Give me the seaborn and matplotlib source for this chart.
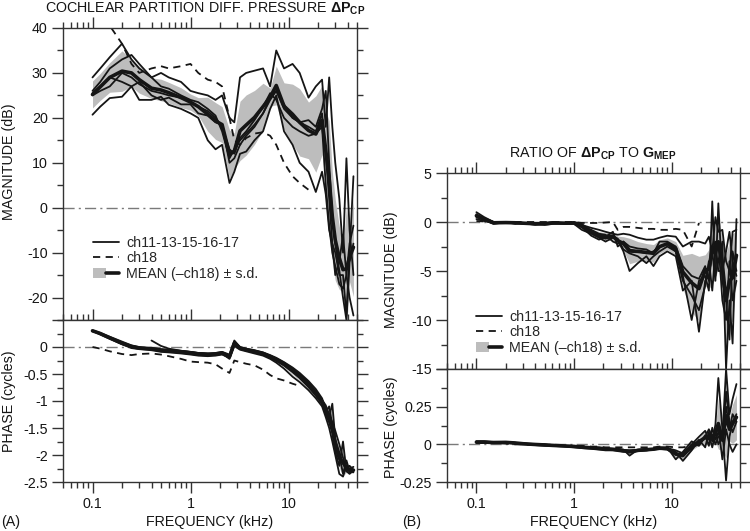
import numpy as np
import pandas as pd
import matplotlib
matplotlib.use("Agg")
import matplotlib.pyplot as plt
import seaborn as sns
from matplotlib.lines import Line2D
from matplotlib.patches import Rectangle
from matplotlib.legend_handler import HandlerTuple
from matplotlib.ticker import FixedLocator, FixedFormatter, NullFormatter

nan = np.nan

# ---------------- data ----------------
freq_khz = [0.1, 0.12, 0.15, 0.2, 0.25, 0.3, 0.4, 0.5, 0.6, 0.8, 1.0, 1.2, 1.5, 1.8, 2.1,
            2.5, 2.8, 3.2, 3.7, 4.5, 5.5, 6.5, 7.5, 9.0, 11, 13, 16, 19, 22, 24, 26, 28,
            30, 33, 36, 39, 42, 46]

# Panel A: cochlear partition differential pressure, magnitude (dB)
magA_ch11 = [26, 28, 31, 33, 34, 32, 29, 30, 29, 28, 26, 25.5, 25, 24, 25, 20, 19, 29, 30, 30.5,
             31, 27, 35, 31, 32, 30, 24.5, 27, 28.5, 18, 29, 18, 10, 2, -10, 11, -5, -15]
magA_ch13 = [29, 31, 33.5, 36.5, 33, 31, 29, 27, 26.5, 25, 24, 23.5, 22, 20.5, 17, 11, 13, 15,
             16.5, 18.5, 21, 24, 26, 22, 20, 19, 19.5, 18, 22, 26, 10, -2, -8, -14, -20, -25, -12, -8]
magA_ch15 = [20.7, 22.5, 24.4, 24.7, 27, 24, 24, 24.7, 22.9, 22, 21, 20, 15, 13, 14, 5.5, 8, 12,
             12.5, 15, 17, 22, 25, 17, 14, 10, 8, 3.5, 8, 3, -5, -8, -10, -15, -15, -24, -10, 7]
magA_ch16 = [25, 26, 27, 30, 29, 27.5, 26, 25.5, 25, 24.5, 23.5, 22.5, 21.5, 20, 18, 13, 12, 15.5,
             17, 19.5, 22.5, 25.5, 24, 20, 18, 17, 16, 16.5, 18, 5, -4, -10, -13, -17, -18, -15, -8, -4]
magA_ch17 = [25.5, 27, 29, 28, 27, 28, 25, 24, 24.5, 23, 23, 21, 20.5, 19, 18.5, 10, 11, 14, 16,
             18, 21, 24.5, 26, 23, 20, 19, 18, 17, 21, 12, 2, -8, -15, -12, -6, -15, -20, -24]
magA_ch18 = [nan, 45, 40.5, 36.5, 32, 30, 31, 31.5, 31, 31.5, 32, 30, 28.5, 28, 27, 20, 15, 14,
             15.5, 16.5, 16.8, 16, 14, 10, 7, 5.5, 4, nan, nan, nan, nan, nan, nan, nan, nan, nan, nan, nan]
magA_mean = [25.2, 26.9, 29.0, 30.4, 30, 28.5, 26.6, 26.2, 25.6, 24.5, 23.5, 22.5, 20.8, 19.3, 18.5,
             11.9, 12.6, 17.1, 18.4, 20.1, 22.5, 24.6, 27.2, 22.6, 20.8, 19, 17.2, 16.4, 19.5, 12.8,
             6.4, -2, -7.2, -11.2, -13.8, -13.6, -11, -8.8]
magA_sd = [3, 3, 3.3, 4.5, 3, 3, 2.3, 2.4, 2.3, 2.2, 1.8, 2, 3.8, 4.1, 4, 5.4, 4, 6.6, 6.7, 6,
           5.2, 2, 4.3, 5.2, 6.7, 7.5, 6.3, 8.5, 7.7, 8.7, 13, 10, 9, 7, 5, 14, 5.5, 11]

# Panel A: phase (cycles)
phA_ch11 = [0.31, 0.26, 0.19, 0.10, 0.03, 0.00, -0.03, -0.05, -0.06, -0.08, -0.10, -0.12, -0.13,
            -0.12, -0.10, -0.17, 0.10, -0.01, -0.04, -0.07, -0.11, -0.16, -0.21, -0.29, -0.40,
            -0.50, -0.66, -0.82, -0.98, -1.08, -1.25, -1.40, -1.55, -1.80, -2.05, -2.25, -2.20, -2.28]
phA_ch13 = [0.30, 0.24, 0.16, 0.06, 0.00, -0.02, -0.04, -0.07, -0.08, -0.10, -0.12, -0.14, -0.15,
            -0.14, -0.12, -0.22, 0.05, -0.03, -0.06, -0.09, -0.13, -0.19, -0.25, -0.34, -0.46,
            -0.57, -0.74, -0.90, -1.05, -1.20, -1.10, -1.45, -1.85, -2.00, -2.35, -2.10, -2.30, -2.32]
phA_ch15 = [0.29, 0.25, 0.17, 0.08, 0.02, -0.01, -0.02, -0.04, -0.05, -0.07, -0.09, -0.11, -0.12,
            -0.11, -0.09, -0.14, 0.12, 0.00, -0.03, -0.06, -0.10, -0.15, -0.20, -0.28, -0.38,
            -0.48, -0.63, -0.78, -0.95, -1.15, -1.30, -1.05, -1.70, -1.95, -2.15, -2.30, -2.25, -2.22]
phA_ch16 = [nan, nan, nan, nan, nan, nan, 0.12, 0.02, -0.03, -0.07, -0.09, -0.11, -0.12, -0.13,
            -0.11, -0.19, 0.08, -0.02, -0.05, -0.08, -0.12, -0.17, -0.23, -0.31, -0.43, -0.53,
            -0.70, -0.86, -1.02, -1.25, -1.40, -1.60, -1.95, -2.20, -1.75, -2.30, -2.35, -2.28]
phA_ch17 = [0.30, 0.23, 0.15, 0.05, -0.02, -0.04, -0.06, -0.09, -0.10, -0.12, -0.14, -0.16, -0.17,
            -0.16, -0.14, -0.20, 0.02, -0.05, -0.08, -0.12, -0.16, -0.22, -0.29, -0.40, -0.55,
            -0.65, -0.80, -0.95, -1.10, -1.30, -1.50, -1.75, -2.00, -2.35, -2.40, -2.20, -2.32, -2.30]
phA_ch18 = [0.00, -0.03, -0.08, -0.13, -0.15, -0.13, -0.12, -0.14, -0.17, -0.22, -0.27, -0.28,
            -0.29, -0.32, -0.40, -0.48, -0.25, -0.28, -0.31, -0.34, -0.42, -0.52, -0.58, -0.62,
            -0.68, -0.72, nan, nan, nan, nan, nan, nan, nan, nan, nan, nan, nan, nan]
phA_mean = [0.30, 0.25, 0.17, 0.07, 0.01, -0.02, -0.03, -0.06, -0.07, -0.09, -0.11, -0.13, -0.14,
            -0.13, -0.11, -0.18, 0.07, -0.02, -0.05, -0.08, -0.12, -0.18, -0.24, -0.32, -0.44,
            -0.55, -0.71, -0.86, -1.02, -1.20, -1.31, -1.45, -1.81, -2.06, -2.14, -2.23, -2.28, -2.28]
phA_sd = [0.02, 0.02, 0.02, 0.03, 0.03, 0.02, 0.03, 0.03, 0.03, 0.03, 0.03, 0.03, 0.03, 0.03,
          0.03, 0.04, 0.05, 0.03, 0.03, 0.03, 0.03, 0.04, 0.04, 0.05, 0.07, 0.07, 0.07, 0.07,
          0.07, 0.08, 0.16, 0.25, 0.17, 0.18, 0.25, 0.09, 0.06, 0.05]

# Panel B: ratio of dPcp to G_MEP, magnitude (dB)
magB_ch11 = [1.0, 0.5, 0, -0.1, 0, -0.1, -0.2, -0.1, -0.1, -0.1, -0.1, -0.3, -0.6, -0.8, -1.0,
             -1.2, -1.3, -1.2, -1.3, -1.6, -1.8, -1.8, -1.6, -1.4, -1.5, -2.5, -2.0, -2.0, -2.2,
             -1.5, -3, 0.5, -1, -0.8, -4, -5, -1, -0.8]
magB_ch13 = [0.8, 0.3, -0.1, 0, -0.2, -0.1, -0.3, -0.2, -0.1, -0.2, -0.2, -0.8, -1.2, -1.6, -2.0,
             -1.6, -1.8, -3, -5, -4.2, -3.5, -4.5, -3.5, -3, -3.5, -7, -6, -11.2, -6, -5.5, -3,
             -6, 1.9, -6, -8, -12, -3, -5]
magB_ch15 = [0.5, 0.2, -0.2, 0, -0.1, -0.2, -0.2, -0.3, -0.2, -0.1, -0.1, -0.5, -1.4, -1.8, -1.5,
             -1.0, -2.5, -2, -2.8, -3, -3.2, -3, -2.5, -2.2, -3, -5.5, -10, -6, -5.5, -7, 2.1,
             -5.5, -4, -2, -15, -8, -12.4, 0.3]
magB_ch16 = [0.3, 0.1, -0.1, -0.1, 0, -0.1, -0.1, -0.1, 0, -0.1, -0.1, -0.4, -0.8, -1.2, -1.3,
             -2.0, -2.2, -2.0, -2.5, -2.7, -2.8, -3.2, -2.0, -2.0, -2.5, -4.5, -5.5, -5.8, -4.5,
             -6, -3, -2, -5, -5, -3, -1, -4, -5.5]
magB_ch17 = [0.6, 0.4, 0, -0.1, -0.1, -0.1, -0.1, -0.2, -0.1, -0.1, 0, -0.2, -1.0, -1.5, -1.7,
             -1.5, -1.7, -2.8, -3.2, -3.5, -4.2, -3.5, -3, -2.5, -3, -6, -7.5, -9, -6.5, -4, -7,
             -3, -2, -8, -10, -4, -8, -6]
magB_ch18 = [0.1, 0.05, 0, 0, 0, 0, 0, 0, 0, 0, 0, -0.1, -0.1, -0.1, -0.05, 0, -0.8, -0.5, -0.5,
             -0.6, -0.7, -0.7, -0.8, -0.8, -0.7, -0.8, -2.5, -0.1, nan, nan, nan, nan, nan, nan,
             nan, nan, nan, nan]
magB_mean = [0.64, 0.3, -0.08, -0.06, -0.08, -0.12, -0.18, -0.18, -0.1, -0.12, -0.1, -0.44, -1.0,
             -1.38, -1.5, -1.46, -1.9, -2.2, -2.96, -3.0, -3.1, -3.2, -2.52, -2.22, -2.7, -5.1,
             -6.2, -6.8, -4.94, -4.8, -2.78, -3.2, -2.02, -4.36, -8, -6, -5.68, -3.4]
magB_sd = [0.3, 0.15, 0.1, 0.05, 0.08, 0.05, 0.08, 0.08, 0.08, 0.05, 0.08, 0.25, 0.3, 0.4, 0.4,
           0.4, 0.45, 0.7, 1.3, 1.0, 0.9, 0.9, 0.7, 0.6, 0.7, 1.7, 3.0, 3.3, 1.6, 2.0, 3.6, 2.5,
           2.7, 2.7, 4.8, 4.0, 4.5, 2.5]

# Panel B: phase (cycles)
phB_ch11 = [0.02, 0.02, 0.015, 0.015, 0.01, 0.005, 0.0, 0.0, -0.005, -0.01, -0.01, -0.015, -0.02,
            -0.02, -0.025, -0.03, -0.03, -0.035, -0.075, -0.035, -0.03, -0.03, -0.02, -0.02,
            -0.10, -0.05, 0.02, -0.01, 0.05, 0.10, 0.05, 0.10, 0.00, 0.05, 0.50, 0.20, 0.30, 0.40]
phB_ch13 = [0.015, 0.015, 0.01, 0.015, 0.01, 0.005, 0.0, -0.005, -0.01, -0.01, -0.015, -0.02,
            -0.025, -0.03, -0.03, -0.035, -0.04, -0.045, -0.05, -0.045, -0.04, -0.035, -0.03,
            -0.03, -0.05, -0.11, -0.04, 0.03, -0.02, 0.08, 0.02, 0.13, 0.44, 0.10, -0.24, 0.05,
            0.15, 0.20]
phB_ch15 = [0.01, 0.01, 0.01, 0.01, 0.005, 0.0, -0.005, -0.01, -0.01, -0.015, -0.02, -0.025,
            -0.03, -0.035, -0.04, -0.04, -0.045, -0.05, -0.045, -0.04, -0.035, -0.03, -0.03,
            -0.035, -0.07, -0.08, -0.02, 0.00, 0.06, -0.01, 0.11, 0.03, 0.08, 0.02, 0.35, 0.15,
            0.08, 0.15]
phB_ch16 = [0.012, 0.012, 0.01, 0.012, 0.008, 0.004, 0.0, -0.003, -0.006, -0.01, -0.012, -0.016,
            -0.02, -0.025, -0.028, -0.03, -0.035, -0.04, -0.04, -0.04, -0.04, -0.035, -0.025,
            -0.03, -0.06, -0.07, -0.03, 0.02, 0.04, 0.06, -0.02, 0.08, 0.12, -0.10, 0.10, 0.00,
            -0.05, 0.00]
phB_ch17 = [0.018, 0.018, 0.014, 0.014, 0.01, 0.006, 0.002, -0.002, -0.006, -0.012, -0.015,
            -0.018, -0.022, -0.025, -0.03, -0.032, -0.035, -0.038, -0.04, -0.038, -0.035, -0.03,
            -0.025, -0.025, -0.04, -0.06, 0.00, 0.05, 0.09, 0.03, 0.06, 0.00, 0.05, 0.08, 0.25,
            0.10, 0.20, 0.15]
phB_ch18 = [0.01, 0.01, 0.01, 0.005, 0.0, 0.0, -0.005, -0.005, -0.01, -0.01, -0.01, -0.01,
            -0.015, -0.015, -0.02, -0.02, -0.02, -0.02, -0.02, -0.02, -0.02, -0.02, -0.015,
            -0.015, -0.02, -0.02, -0.01, nan, nan, nan, nan, nan, nan, nan, nan, nan, nan, nan]
phB_mean = [0.015, 0.015, 0.012, 0.013, 0.009, 0.004, -0.001, -0.004, -0.007, -0.011, -0.014,
            -0.019, -0.023, -0.027, -0.031, -0.033, -0.036, -0.042, -0.05, -0.04, -0.036, -0.032,
            -0.026, -0.028, -0.064, -0.074, -0.014, 0.018, 0.044, 0.052, 0.044, 0.068, 0.138,
            0.03, 0.19, 0.10, 0.136, 0.18]
phB_sd = [0.004, 0.004, 0.003, 0.003, 0.003, 0.003, 0.003, 0.004, 0.004, 0.004, 0.005, 0.005,
          0.005, 0.006, 0.006, 0.005, 0.006, 0.006, 0.013, 0.005, 0.005, 0.003, 0.004, 0.006,
          0.025, 0.025, 0.025, 0.025, 0.045, 0.045, 0.05, 0.05, 0.17, 0.07, 0.28, 0.08, 0.13, 0.15]

legend_labels = ["ch11-13-15-16-17", "ch18", "MEAN (\u2013ch18) \u00b1 s.d."]
x_tick_vals = [0.1, 1, 10]
x_tick_labels = ["0.1", "1", "10"]

# ---------------- style ----------------
sns.set_theme(style="ticks")
plt.rcParams['font.family'] = ['Liberation Sans', 'DejaVu Sans']
plt.rcParams['axes.unicode_minus'] = False
plt.rcParams['mathtext.fontset'] = 'custom'
plt.rcParams['mathtext.rm'] = 'Liberation Sans'
plt.rcParams['mathtext.bf'] = 'Liberation Sans:bold'
plt.rcParams['mathtext.it'] = 'Liberation Sans:italic'

FS = 10.3
INK = '#151515'
BAND = '#bdbdbd'
W, H = 750, 531

fig = plt.figure(figsize=(7.5, 5.31), dpi=100)


def px_axes(x0, y0, x1, y1):
    return fig.add_axes([x0 / W, 1 - y1 / H, (x1 - x0) / W, (y1 - y0) / H])


def draw(ax, solids, dashed, mean, sd):
    ax.set_xscale('log')
    ax.axhline(0, color='#7a7a7a', lw=1.0, ls=(0, (8, 3, 1.5, 3)), zorder=0.5)
    lo = [m - s for m, s in zip(mean, sd)]
    hi = [m + s for m, s in zip(mean, sd)]
    ax.fill_between(freq_khz, lo, hi, color=BAND, lw=0, zorder=1)
    for ys in solids:
        df = pd.DataFrame({'f': freq_khz, 'v': ys}).dropna()
        sns.lineplot(data=df, x='f', y='v', ax=ax, color=INK, lw=1.3, sort=False,
                     legend=False, zorder=2)
    df = pd.DataFrame({'f': freq_khz, 'v': dashed}).dropna()
    sns.lineplot(data=df, x='f', y='v', ax=ax, color=INK, lw=1.3, sort=False,
                 legend=False, zorder=2.5, linestyle=(0, (4, 3)))
    df = pd.DataFrame({'f': freq_khz, 'v': mean})
    sns.lineplot(data=df, x='f', y='v', ax=ax, color=INK, lw=2.6, sort=False,
                 legend=False, zorder=3)
    ax.set_xlabel('')
    ax.set_ylabel('')


def style(ax, ylim, ymaj, ylabels, ymin, bottom):
    ax.set_xlim(0.05, 50)
    ax.set_ylim(*ylim)
    ax.xaxis.set_major_locator(FixedLocator(x_tick_vals))
    minors = [m * d for d in (0.01, 0.1, 1, 10) for m in range(2, 10) if 0.05 <= m * d <= 50]
    ax.xaxis.set_minor_locator(FixedLocator(minors))
    ax.xaxis.set_minor_formatter(NullFormatter())
    if bottom:
        ax.xaxis.set_major_formatter(FixedFormatter(x_tick_labels))
    else:
        ax.xaxis.set_major_formatter(NullFormatter())
    ax.yaxis.set_major_locator(FixedLocator(ymaj))
    ax.yaxis.set_major_formatter(FixedFormatter(ylabels))
    ax.yaxis.set_minor_locator(FixedLocator(ymin))
    ax.tick_params(which='both', direction='out', top=True, right=True, left=True,
                   bottom=bottom, labelbottom=bottom, colors='#333333', labelcolor=INK,
                   labelsize=FS, width=1.0, pad=3)
    ax.tick_params(which='major', length=8)
    ax.tick_params(which='minor', length=4.3)
    for s in ax.spines.values():
        s.set_color('#333333')
        s.set_linewidth(1.0)
        s.set_visible(True)
    ax.grid(False)


def legend(ax, anchor):
    h1 = Line2D([], [], color=INK, lw=1.3)
    h2 = Line2D([], [], color=INK, lw=1.3, linestyle=(0, (4, 3)))
    h3 = (Rectangle((0, 0), 1, 1, facecolor=BAND, edgecolor='none'), Line2D([], [], color=INK, lw=2.6))
    ax.legend([h1, h2, h3], legend_labels, loc='lower left', bbox_to_anchor=anchor,
              frameon=False, fontsize=FS, handlelength=1.8, handletextpad=0.5,
              labelspacing=0.1, borderpad=0, borderaxespad=0,
              handler_map={tuple: HandlerTuple(ndivide=None)})


# ---------- Panel A ----------
axA1 = px_axes(63, 28, 357, 320)
axA2 = px_axes(63, 320, 357, 482)
draw(axA1, [magA_ch11, magA_ch13, magA_ch15, magA_ch16, magA_ch17], magA_ch18, magA_mean, magA_sd)
draw(axA2, [phA_ch11, phA_ch13, phA_ch15, phA_ch16, phA_ch17], phA_ch18, phA_mean, phA_sd)
style(axA1, (-25, 40), [-20, -10, 0, 10, 20, 30, 40], ["-20", "-10", "0", "10", "20", "30", "40"],
      [-25, -15, -5, 5, 15, 25, 35], bottom=False)
style(axA2, (-2.5, 0.5), [-2.5, -2, -1.5, -1, -0.5, 0, 0.5],
      ["-2.5", "-2", "-1.5", "-1", "-0.5", "0", ""],
      [-2.25, -1.75, -1.25, -0.75, -0.25, 0.25], bottom=True)
legend(axA1, (0.102, 0.135))

# ---------- Panel B ----------
axB1 = px_axes(447, 173, 740, 369)
axB2 = px_axes(447, 369, 740, 482)
draw(axB1, [magB_ch11, magB_ch13, magB_ch15, magB_ch16, magB_ch17], magB_ch18, magB_mean, magB_sd)
draw(axB2, [phB_ch11, phB_ch13, phB_ch15, phB_ch16, phB_ch17], phB_ch18, phB_mean, phB_sd)
style(axB1, (-15, 5), [-15, -10, -5, 0, 5], ["-15", "-10", "-5", "0", "5"],
      [-12.5, -7.5, -2.5, 2.5], bottom=False)
style(axB2, (-0.25, 0.5), [-0.25, 0, 0.25, 0.5], ["-0.25", "0", "0.25", ""],
      [-0.125, 0.125, 0.375], bottom=True)
legend(axB1, (0.099, 0.072))

# ---------- texts ----------
def ftext(x, y, s, **kw):
    fig.text(x / W, 1 - y / H, s, fontsize=FS, color=INK, **kw)

ftext(45, 9, r"COCHLEAR PARTITION DIFF. PRESSURE $\mathbf{\Delta P_{CP}}$", ha='left', va='center')
ftext(593, 154, r"RATIO OF $\mathbf{\Delta P_{CP}}$ TO $\mathbf{G_{MEP}}$", ha='center', va='center')
ftext(9, 162, "MAGNITUDE (dB)", rotation=90, ha='center', va='center')
ftext(9, 401, "PHASE (cycles)", rotation=90, ha='center', va='center')
ftext(391, 270, "MAGNITUDE (dB)", rotation=90, ha='center', va='center')
ftext(391, 427, "PHASE (cycles)", rotation=90, ha='center', va='center')
ftext(210, 522, "FREQUENCY (kHz)", ha='center', va='center')
ftext(594, 522, "FREQUENCY (kHz)", ha='center', va='center')
ftext(1, 522, "(A)", ha='left', va='center')
ftext(402, 522, "(B)", ha='left', va='center')

fig.savefig("out.png", dpi=100, facecolor='white')
